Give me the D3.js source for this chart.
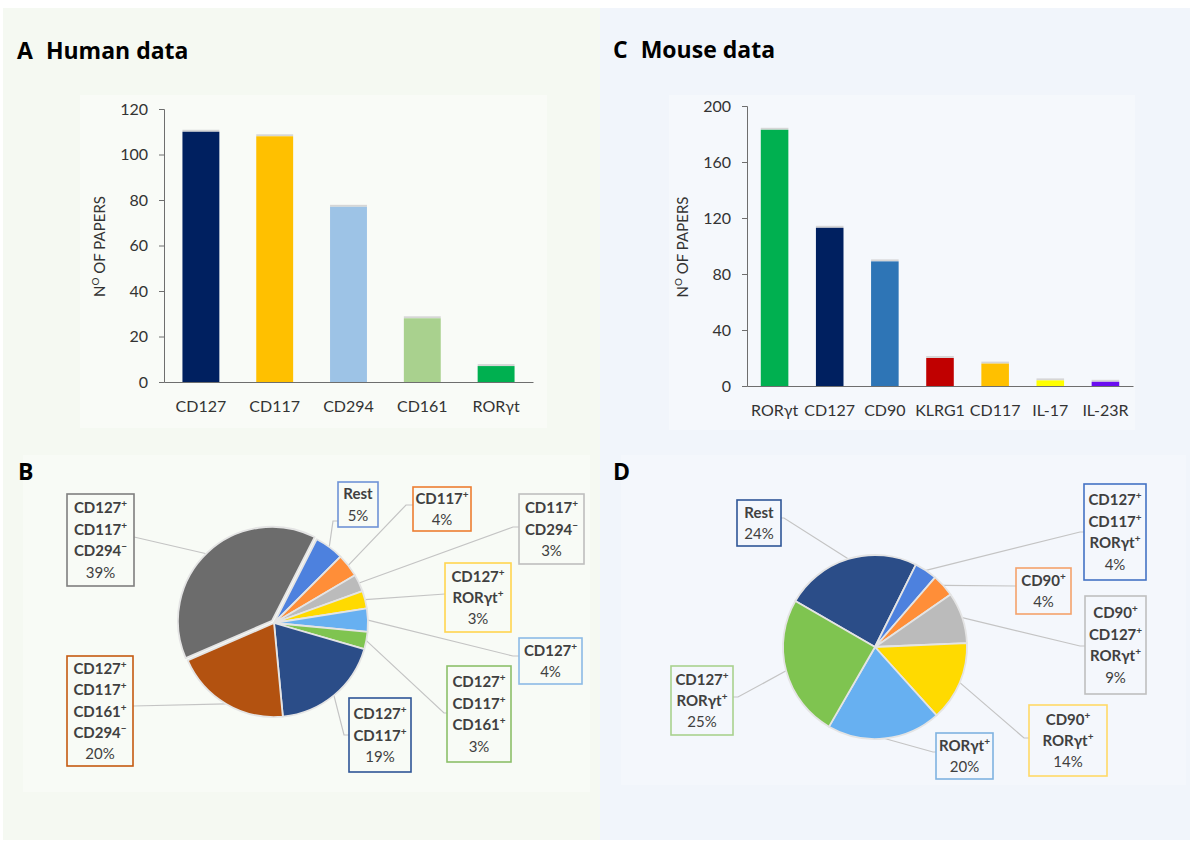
<!DOCTYPE html>
<html>
<head>
<meta charset="utf-8">
<script src="https://cdn.jsdelivr.net/npm/d3@7"></script>
<style>
  body { margin: 0; background: #fff; }
  svg { display: block; }
  text { font-family: Lato, "Open Sans", sans-serif; }
</style>
</head>
<body>
<svg id="chart" width="1200" height="844"></svg>
<script>
// ---- data ----
var humanMarkers = ["CD127", "CD117", "CD294", "CD161", "RORγt"];
var humanPapers = [110, 108, 77, 28, 7];
var humanBarColors = ["#002060", "#FFC000", "#9DC3E6", "#A9D18E", "#00B050"];
var humanTicks = [0, 20, 40, 60, 80, 100, 120];

var mouseMarkers = ["RORγt", "CD127", "CD90", "KLRG1", "CD117", "IL-17", "IL-23R"];
var mousePapers = [183, 113, 89, 20, 16, 4, 3];
var mouseBarColors = ["#00B050", "#002060", "#2E75B6", "#C00000", "#FFC000", "#FFFF00", "#6A0DF0"];
var mouseTicks = [0, 40, 80, 120, 160, 200];

var humanSubsets = ["Rest", "CD117+", "CD117+|CD294-", "CD127+|RORγt+", "CD127+",
                    "CD127+|CD117+|CD161+", "CD127+|CD117+", "CD127+|CD117+|CD161+|CD294-",
                    "CD127+|CD117+|CD294-"];
var humanPct = [5, 4, 3, 3, 4, 3, 19, 20, 39];
var humanSliceColors = ["#4472C4", "#ED7D31", "#A5A5A5", "#FFC000", "#5B9BD5",
                        "#70AD47", "#264478", "#9E480E", "#5F5F5F"];
var humanBoxColors = ["#6F93D6", "#ED7D31", "#BFBFBF", "#FFD54F", "#8DBBE6",
                      "#8CC06A", "#2F5597", "#C55A11", "#7F7F7F"];

var mouseSubsets = ["Rest", "CD127+|CD117+|RORγt+", "CD90+", "CD90+|CD127+|RORγt+",
                    "CD90+|RORγt+", "RORγt+", "CD127+|RORγt+"];
var mousePct = [24, 4, 4, 9, 14, 20, 25];
var mouseSliceColors = ["#264478", "#4472C4", "#ED7D31", "#A5A5A5", "#FFC000", "#5B9BD5", "#70AD47"];
var mouseBoxColors = ["#2F5597", "#4472C4", "#F4A26B", "#BFBFBF", "#FFD966", "#7FB2E0", "#A9D18E"];

// ---- layout (label boxes: x, y, w, h, attach x, attach y, knee x) ----
var humanBoxes = [
  [338, 482, 40, 45, 338, 521, 333],
  [413, 487, 58, 44, 413, 505, 406],
  [519, 494, 65, 70, 519, 527, 513],
  [445, 563, 66, 69, 445, 594, 445],
  [519, 638, 63, 46, 519, 656, 513],
  [447, 666, 64, 96, 447, 713, 444],
  [349, 698, 62, 74, 349, 735, 344],
  [67, 656, 66, 110, 133, 706, 133],
  [67, 494, 67, 92, 134, 537, 134]
];
var mouseBoxes = [
  [737, 500, 44, 46, 781, 518, 784],
  [1084, 484, 62, 96, 1084, 532, 1080],
  [1016, 568, 55, 46, 1016, 586, 1016],
  [1085, 596, 61, 98, 1085, 646, 1080],
  [1029, 705, 78, 71, 1029, 738, 1024],
  [936, 733, 57, 46, 936, 752, 933],
  [671, 666, 62, 69, 733, 697, 738]
];

var svg = d3.select("#chart");
var defs = svg.append("defs");

// panel backgrounds
svg.append("rect").attr("x", 3).attr("y", 8).attr("width", 597).attr("height", 832).attr("fill", "#f5f9f2");
svg.append("rect").attr("x", 600).attr("y", 8).attr("width", 590).attr("height", 832).attr("fill", "#f1f5fb");
svg.append("rect").attr("x", 80).attr("y", 95).attr("width", 467).attr("height", 333).attr("fill", "#f9fbf7");
svg.append("rect").attr("x", 669).attr("y", 95).attr("width", 466).attr("height", 335).attr("fill", "#f5f8fc");
svg.append("rect").attr("x", 23).attr("y", 455).attr("width", 567).attr("height", 337).attr("fill", "#f8fbf6");
svg.append("rect").attr("x", 621).attr("y", 455).attr("width", 565).attr("height", 330).attr("fill", "#f4f7fc");

function title(x, y, letter, rest) {
  var t = svg.append("text").attr("x", x).attr("y", y)
    .style("font-family", "'Open Sans', sans-serif")
    .attr("font-size", 23).attr("font-weight", 700).attr("fill", "#000");
  t.append("tspan").text(letter);
  if (rest) t.append("tspan").attr("dx", 13).text(rest);
}
title(17, 59, "A", "Human data");
title(613, 58, "C", "Mouse data");
title(18, 480, "B");
title(613, 480, "D");

function drawBars(markers, values, colors, ticks, x0, x1, y0, y1, labelX, labelBase) {
  var g = svg.append("g");
  var x = d3.scaleBand().domain(markers).range([x0, x1]).paddingInner(0.5).paddingOuter(0.25);
  var y = d3.scaleLinear().domain([0, d3.max(ticks)]).range([y0, y1]);

  g.selectAll(".cap").data(values).enter().append("rect")
    .attr("x", function(d, i) { return x(markers[i]); })
    .attr("y", function(d) { return y(d) - 2; })
    .attr("width", x.bandwidth()).attr("height", 2)
    .attr("fill", "#d6d6d6");
  g.selectAll(".bar").data(values).enter().append("rect")
    .attr("x", function(d, i) { return x(markers[i]); })
    .attr("y", function(d) { return y(d); })
    .attr("width", x.bandwidth())
    .attr("height", function(d) { return y0 - y(d); })
    .attr("fill", function(d, i) { return colors[i]; });

  var yAxis = g.append("g").attr("transform", "translate(" + x0 + ",0)")
    .call(d3.axisLeft(y).tickValues(ticks).tickSize(5).tickPadding(11));
  yAxis.select(".domain").attr("stroke", "#6e6e6e");
  yAxis.selectAll(".tick line").attr("stroke", "#6e6e6e");
  yAxis.selectAll("text").attr("font-size", 16).attr("fill", "#333");

  var xAxis = g.append("g").attr("transform", "translate(0," + y0 + ")")
    .call(d3.axisBottom(x).tickSize(0).tickPadding(0));
  xAxis.select(".domain").attr("stroke", "#6e6e6e");
  xAxis.selectAll("text").attr("dy", null).attr("y", labelBase - y0)
    .attr("font-size", 16).attr("fill", "#333");

  var lab = g.append("text")
    .attr("transform", "translate(" + labelX + "," + ((y0 + y1) / 2 + 1) + ") rotate(-90)")
    .attr("text-anchor", "middle").attr("font-size", 15).attr("fill", "#333");
  lab.append("tspan").text("N");
  lab.append("tspan").attr("font-size", 10).attr("dy", -6).text("O");
  lab.append("tspan").attr("dy", 6).text(" OF PAPERS");
}
drawBars(humanMarkers, humanPapers, humanBarColors, humanTicks, 164, 533, 382, 109, 105, 412);
drawBars(mouseMarkers, mousePapers, mouseBarColors, mouseTicks, 747, 1133, 386, 106, 688, 416);

function labelLines(g, box, text, pct) {
  var lines = text.split("|").concat([pct + "%"]);
  var cx = box[0] + box[2] / 2;
  var cy = box[1] + box[3] / 2;
  var lh = 21.4;
  lines.forEach(function(s, i) {
    var isPct = i === lines.length - 1;
    var t = g.append("text").attr("x", cx)
      .attr("y", cy + (i - (lines.length - 1) / 2) * lh + 5.5)
      .attr("text-anchor", "middle").attr("font-size", 15)
      .attr("font-weight", isPct ? 400 : 700).attr("fill", "#404040");
    var last = s.slice(-1);
    if (!isPct && (last === "+" || last === "-")) {
      t.append("tspan").text(s.slice(0, -1));
      t.append("tspan").attr("font-size", 10).attr("dy", -6)
        .text(last === "+" ? "+" : "\u2212");
    } else {
      t.text(s);
    }
  });
}

function drawPie(id, subsets, pct, sliceColors, boxColors, boxes, cx, cy, r, startDeg, explodeIdx) {
  var g = svg.append("g");
  var pie = d3.pie().sort(null).value(function(d) { return d; })
    .startAngle(startDeg * Math.PI / 180).endAngle((startDeg + 360) * Math.PI / 180);
  var arcs = pie(pct);
  var arc = d3.arc().innerRadius(0).outerRadius(r);

  sliceColors.forEach(function(c, i) {
    var gr = defs.append("linearGradient").attr("id", id + "g" + i)
      .attr("gradientUnits", "userSpaceOnUse")
      .attr("x1", cx - r * 0.3).attr("y1", cy - r).attr("x2", cx + r * 0.3).attr("y2", cy + r);
    gr.append("stop").attr("offset", "0%").attr("stop-color", d3.color(c).brighter(0.35));
    gr.append("stop").attr("offset", "55%").attr("stop-color", c);
    gr.append("stop").attr("offset", "100%").attr("stop-color", d3.color(c).darker(0.3));
  });

  // leader lines
  arcs.forEach(function(a, i) {
    var m = (a.startAngle + a.endAngle) / 2;
    var px = cx + r * Math.sin(m), py = cy - r * Math.cos(m);
    var b = boxes[i];
    g.append("polyline")
      .attr("points", [[px, py], [b[6], b[5]], [b[4], b[5]]].map(function(p) { return p.join(","); }).join(" "))
      .attr("fill", "none").attr("stroke", "#c4c4c4").attr("stroke-width", 1.2);
  });

  g.selectAll(".slice").data(arcs).enter().append("path")
    .attr("d", arc)
    .attr("transform", function(d, i) {
      var dx = 0, dy = 0;
      if (i === explodeIdx) {
        var m = (d.startAngle + d.endAngle) / 2;
        dx = 3 * Math.sin(m); dy = -3 * Math.cos(m);
      }
      return "translate(" + (cx + dx) + "," + (cy + dy) + ")";
    })
    .attr("fill", function(d, i) { return "url(#" + id + "g" + i + ")"; })
    .attr("stroke", "#e4e4e4").attr("stroke-width", 1.8).attr("stroke-linejoin", "round");

  boxes.forEach(function(b, i) {
    g.append("rect").attr("x", b[0]).attr("y", b[1]).attr("width", b[2]).attr("height", b[3])
      .attr("fill", "none").attr("stroke", boxColors[i]).attr("stroke-width", 1.6);
    labelLines(g, b, subsets[i], pct[i]);
  });
}
drawPie("hp", humanSubsets, humanPct, humanSliceColors, humanBoxColors, humanBoxes, 274, 623, 94, 27, 8);
drawPie("mp", mouseSubsets, mousePct, mouseSliceColors, mouseBoxColors, mouseBoxes, 875, 647, 92, -60, -1);
</script>
</body>
</html>
